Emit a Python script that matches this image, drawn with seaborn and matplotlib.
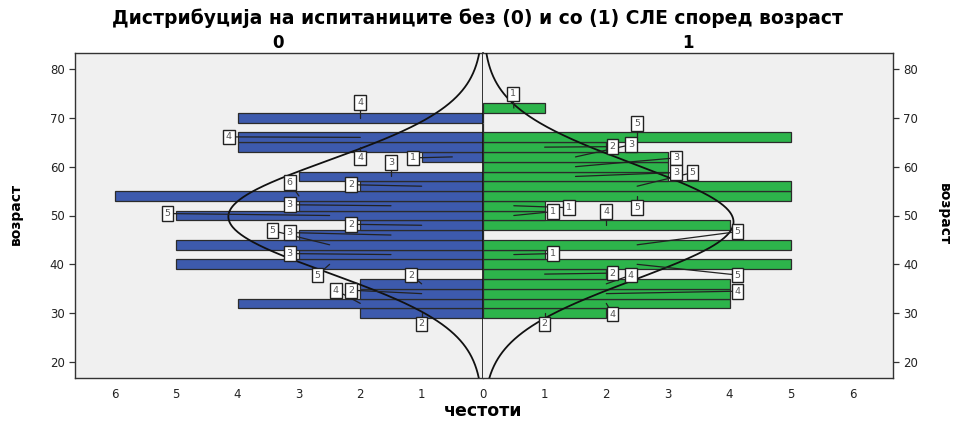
import numpy as np
import pandas as pd
import matplotlib
matplotlib.use("Agg")
import matplotlib.pyplot as plt
import seaborn as sns

# Age bins (2-year wide, centred on even ages) and counts per group
ages = [72, 70, 68, 66, 64, 62, 60, 58, 56, 54, 52, 50, 48, 46, 44, 42, 40, 38, 36, 34, 32, 30]
counts_0 = [0, 4, 0, 4, 4, 1, 0, 3, 2, 6, 3, 5, 2, 3, 5, 3, 5, 0, 2, 2, 4, 2]
counts_1 = [1, 0, 0, 5, 2, 3, 3, 3, 5, 5, 1, 1, 4, 0, 5, 1, 5, 2, 4, 4, 4, 2]
group_names = ["0", "1"]
x_ticks = [0, 1, 2, 3, 4, 5, 6]
y_ticks = [20, 30, 40, 50, 60, 70, 80]

title = "Дистрибуција на испитаниците без (0) и со (1) СЛЕ според возраст"
x_title = "честоти"
y_title = "возраст"

# Where each count label box sits (x in counts, y in years), keyed by bin age
label_pos_0 = {70: (2.0, 73.1), 66: (4.14, 66.1), 64: (2.0, 61.8), 62: (1.14, 61.8),
               58: (1.5, 60.8), 56: (2.15, 56.3), 54: (3.15, 56.7), 52: (3.15, 52.2),
               50: (5.14, 50.4), 48: (2.15, 48.2), 46: (3.15, 46.5), 44: (3.43, 46.9),
               42: (3.15, 42.2), 40: (2.7, 37.8), 36: (1.17, 37.8), 34: (2.15, 34.7),
               32: (2.4, 34.7), 30: (1.0, 27.8)}
label_pos_1 = {72: (0.49, 74.9), 66: (2.5, 68.8), 64: (2.1, 64.1), 62: (2.4, 64.5),
               60: (3.13, 61.8), 58: (3.13, 58.8), 56: (3.4, 58.8), 54: (2.5, 51.6),
               52: (1.39, 51.6), 50: (1.14, 50.8), 48: (2.0, 50.8), 44: (4.13, 46.7),
               42: (1.13, 42.2), 40: (4.13, 37.8), 38: (2.1, 38.2), 36: (2.4, 37.8),
               34: (4.13, 34.5), 32: (2.1, 29.8), 30: (1.0, 27.8)}

BLUE = "#3d5aad"
GREEN = "#2db44b"
BG = "#f0f0f0"

sns.set_style("white")
plt.rcParams["font.family"] = ["DejaVu Sans"]
plt.rcParams["text.color"] = "black"

fig = plt.figure(figsize=(9.56, 4.21), dpi=100)
ax0 = fig.add_axes([75 / 956, 1 - 378 / 421, 408 / 956, 325 / 421])
ax1 = fig.add_axes([483 / 956, 1 - 378 / 421, 410 / 956, 325 / 421])

XMAX = 6.65
YMIN, YMAX = 16.72, 83.28

df0 = pd.DataFrame({"age": ages, "count": counts_0})
df1 = pd.DataFrame({"age": ages, "count": counts_1})

panels = [(ax0, df0, BLUE, label_pos_0), (ax1, df1, GREEN, label_pos_1)]
for ax, df, col, lpos in panels:
    ax.set_facecolor(BG)
    sns.barplot(data=df, x="count", y="age", orient="y", native_scale=True,
                width=1.0, color=col, saturation=1, edgecolor="#2b2b2b",
                linewidth=0.9, ax=ax, zorder=2)

    # Normal curve fitted to the binned ages, scaled to counts per bin
    a = np.repeat(df["age"].to_numpy(), df["count"].to_numpy())
    mu, sd, n = a.mean(), a.std(ddof=1), a.size
    bw = 2.0
    yy = np.linspace(YMIN, YMAX, 400)
    xx = n * bw / (sd * np.sqrt(2 * np.pi)) * np.exp(-0.5 * ((yy - mu) / sd) ** 2)
    ax.plot(xx, yy, color="#111111", lw=1.3, zorder=4)

    # Count labels with leader lines to the middle of each bar
    for age, c in zip(df["age"], df["count"]):
        if c == 0:
            continue
        lx, ly = lpos[age]
        ax.plot([lx, c / 2], [ly, age], color="#222222", lw=0.9, zorder=5)
        ax.text(lx, ly, str(c), fontsize=6.8, color="#555555", ha="center", va="center",
                zorder=6,
                bbox=dict(boxstyle="square,pad=0.3", fc="white", ec="#222222", lw=1.0))

    ax.set_ylim(YMIN, YMAX)
    ax.set_yticks(y_ticks)
    ax.set_xlabel("")
    ax.set_ylabel("")
    for s in ax.spines.values():
        s.set_color("#333333")
        s.set_linewidth(1.0)
    ax.tick_params(axis="both", length=4, width=0.9, color="#333333",
                   labelsize=8.5, labelcolor="#222222", direction="out")

ax0.set_xlim(XMAX, 0)
ax0.set_xticks(x_ticks)
ax0.yaxis.tick_left()
ax0.spines["right"].set_linewidth(1.2)
ax0.spines["right"].set_color("#111111")

ax1.set_xlim(0, XMAX)
ax1.set_xticks(x_ticks[1:])
ax1.yaxis.tick_right()
ax1.spines["left"].set_visible(False)

fig.text(0.5, 1 - 18 / 421, title, ha="center", va="center", fontsize=13.5, fontweight="bold")
fig.text(278 / 956, 1 - 43 / 421, group_names[0], ha="center", va="center", fontsize=12, fontweight="bold")
fig.text(688 / 956, 1 - 43 / 421, group_names[1], ha="center", va="center", fontsize=12, fontweight="bold")
fig.text(483 / 956, 1 - 411 / 421, x_title, ha="center", va="center", fontsize=12.5, fontweight="bold")
fig.text(16 / 956, 1 - 214 / 421, y_title, ha="center", va="center", rotation=90, fontsize=10, fontweight="bold")
fig.text(944 / 956, 1 - 214 / 421, y_title, ha="center", va="center", rotation=270, fontsize=10, fontweight="bold")

fig.savefig("out.png", dpi=100, facecolor="white")
